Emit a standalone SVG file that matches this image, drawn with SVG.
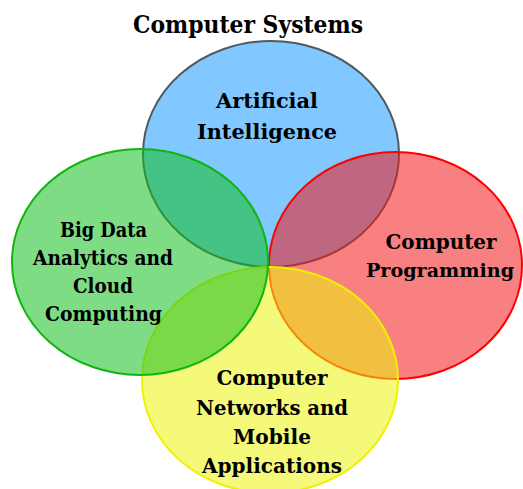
<svg xmlns="http://www.w3.org/2000/svg" width="523" height="489" viewBox="0 0 523 489">
<style>
.t{font-family:"DejaVu Serif","Liberation Serif",serif;font-weight:bold;font-size:20.5px;fill:#000;text-anchor:middle}
.title{font-size:23.5px}
ellipse{stroke-width:2}
</style>
<rect width="523" height="489" fill="#fff"/>
<g id="ai">
<ellipse cx="271" cy="154" rx="128" ry="113" fill="#189bff" fill-opacity="0.55" stroke="#4f5a60"/>
</g>
<g id="prog">
<ellipse cx="395.5" cy="265.5" rx="126.5" ry="113.5" fill="#f21818" fill-opacity="0.55" stroke="#ff0000"/>
</g>
<g id="net">
<ellipse cx="270" cy="380" rx="128" ry="113" fill="#edf40d" fill-opacity="0.55" stroke="#f0f000"/>
</g>
<g id="bigdata">
<ellipse cx="140" cy="262" rx="128" ry="113" fill="#14bf1f" fill-opacity="0.55" stroke="#10b410"/>
</g>
<g id="labels">
<text class="t title" x="248" y="33" textLength="230" lengthAdjust="spacingAndGlyphs">Computer Systems</text>
<text class="t" x="267" y="108" textLength="102" lengthAdjust="spacingAndGlyphs">Artificial</text>
<text class="t" x="267" y="139" textLength="140" lengthAdjust="spacingAndGlyphs">Intelligence</text>
<text class="t" x="103.5" y="237" textLength="87" lengthAdjust="spacingAndGlyphs">Big Data</text>
<text class="t" x="103" y="265" textLength="140" lengthAdjust="spacingAndGlyphs">Analytics and</text>
<text class="t" x="103" y="293" textLength="60" lengthAdjust="spacingAndGlyphs">Cloud</text>
<text class="t" x="103.5" y="321" textLength="117" lengthAdjust="spacingAndGlyphs">Computing</text>
<text class="t" x="441" y="249" textLength="111" lengthAdjust="spacingAndGlyphs">Computer</text>
<text class="t" x="440" y="277" font-size="19" style="font-size:19px" textLength="148" lengthAdjust="spacingAndGlyphs">Programming</text>
<text class="t" x="272" y="385" textLength="111" lengthAdjust="spacingAndGlyphs">Computer</text>
<text class="t" x="272" y="415" textLength="152" lengthAdjust="spacingAndGlyphs">Networks and</text>
<text class="t" x="272" y="444" textLength="78" lengthAdjust="spacingAndGlyphs">Mobile</text>
<text class="t" x="272" y="473" textLength="140" lengthAdjust="spacingAndGlyphs">Applications</text>
</g>
<g id="connectors"/>
</svg>
